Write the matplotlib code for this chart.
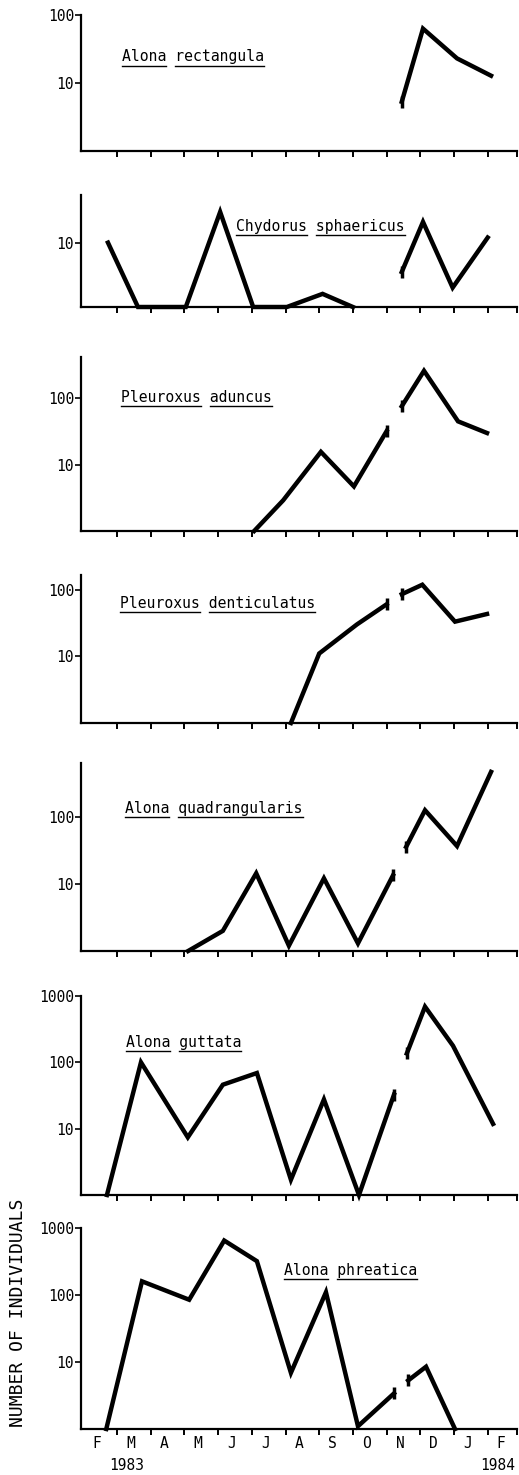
import numpy as np
import matplotlib
matplotlib.use('Agg')
import matplotlib.pyplot as plt
from matplotlib.lines import Line2D
from matplotlib.ticker import FixedLocator, NullLocator, FixedFormatter

W, H = 519, 1475
FONT = 'DejaVu Sans Mono'

# month letters along the bottom axis, Feb 1983 .. Feb 1984
months = ['F', 'M', 'A', 'M', 'J', 'J', 'A', 'S', 'O', 'N', 'D', 'J', 'F']
years = ['1983', '1984']

species = ['Alona rectangula', 'Chydorus sphaericus', 'Pleuroxus aduncus',
           'Pleuroxus denticulatus', 'Alona quadrangularis', 'Alona guttata',
           'Alona phreatica']

# x in months (tick k = start of month k), values = number of individuals
# zeros are drawn on the baseline (1); "_1" is before the November break, "_2" after
rect_x1 = []
rect_y1 = []
rect_x2 = [9.45, 10.08, 11.09, 12.1]
rect_y2 = [5.3, 63, 23, 12.8]

chyd_x1 = [0.73, 1.62, 3.04, 4.06, 5.04, 6.04, 7.1, 8.0]
chyd_y1 = [10, 1, 1, 30, 1, 1, 1.6, 1.0]
chyd_x2 = [9.45, 10.08, 10.96, 12.0]
chyd_y2 = [3.5, 21, 2.0, 12]

adun_x1 = [5.07, 5.93, 7.05, 8.03, 9.0]
adun_y1 = [1, 2.9, 15.6, 4.7, 32]
adun_x2 = [9.45, 10.11, 11.12, 11.98]
adun_y2 = [76, 260, 45, 30]

dent_x1 = [6.16, 7.0, 8.12, 9.0]
dent_y1 = [1, 11, 30, 60]
dent_x2 = [9.45, 10.06, 11.03, 11.98]
dent_y2 = [85, 118, 33, 43]

quad_x1 = [3.11, 4.14, 5.13, 6.1, 7.14, 8.15, 9.19]
quad_y1 = [1, 2, 14.5, 1.2, 12.2, 1.3, 13.5]
quad_x2 = [9.58, 10.14, 11.09, 12.1]
quad_y2 = [36, 127, 37, 475]

gutt_x1 = [0.70, 1.71, 3.1, 4.14, 5.15, 6.16, 7.14, 8.18, 9.22]
gutt_y1 = [1, 100, 7.4, 46, 69, 1.7, 27.6, 1.0, 32.7]
gutt_x2 = [9.6, 10.14, 10.97, 12.16]
gutt_y2 = [136, 690, 178, 11.8]

phre_x1 = [0.68, 1.74, 3.14, 4.18, 5.15, 6.16, 7.2, 8.15, 9.22]
phre_y1 = [1, 160, 85, 650, 320, 6.9, 110, 1.1, 3.4]
phre_x2 = [9.64, 10.17, 11.03]
phre_y2 = [5.3, 8.5, 1]

y_tops = [100, 55, 420, 165, 645, 1000, 1000]
y_ticks = [[10, 100], [10], [10, 100], [10, 100], [10, 100], [10, 100, 1000], [10, 100, 1000]]
# does the segment before the break end with a break bar?
break_bar = [False, False, True, True, True, True, True]

series = [(rect_x1, rect_y1, rect_x2, rect_y2),
          (chyd_x1, chyd_y1, chyd_x2, chyd_y2),
          (adun_x1, adun_y1, adun_x2, adun_y2),
          (dent_x1, dent_y1, dent_x2, dent_y2),
          (quad_x1, quad_y1, quad_x2, quad_y2),
          (gutt_x1, gutt_y1, gutt_x2, gutt_y2),
          (phre_x1, phre_y1, phre_x2, phre_y2)]

# panel extents in pixels (top, bottom) and label anchor (left, centre y)
panel_px = [(15, 151), (195, 307), (357, 531), (575, 723), (763, 951), (996, 1195), (1228, 1429)]
label_px = [(122, 57), (236, 226), (121, 397), (120, 603), (125, 808), (126, 1042), (284, 1270)]

fig = plt.figure(figsize=(W / 100, H / 100), dpi=100)
left, right = 81, 517
xmin, xmax = -0.07, 12.87

axes = []
for i, (top, bot) in enumerate(panel_px):
    ax = fig.add_axes([left / W, 1 - bot / H, (right - left) / W, (bot - top) / H])
    axes.append(ax)
    x1, y1, x2, y2 = series[i]
    if len(x1):
        ax.plot(x1, y1, color='black', lw=3.2, solid_joinstyle='miter', clip_on=False,
                marker='|', markevery=[len(x1) - 1] if break_bar[i] else [], ms=9, mew=2.5)
    ax.plot(x2, y2, color='black', lw=3.2, solid_joinstyle='miter', clip_on=False,
            marker='|', markevery=[0], ms=9, mew=2.5)

    ax.set_yscale('log')
    ax.set_ylim(1, y_tops[i])
    ax.set_xlim(xmin, xmax)
    ax.yaxis.set_major_locator(FixedLocator(y_ticks[i]))
    ax.yaxis.set_major_formatter(FixedFormatter([str(v) for v in y_ticks[i]]))
    ax.yaxis.set_minor_locator(NullLocator())
    ax.xaxis.set_major_locator(FixedLocator(list(range(1, 13)) + [xmax]))
    ax.xaxis.set_major_formatter(FixedFormatter([]))
    for s in ['top', 'right']:
        ax.spines[s].set_visible(False)
    for s in ['left', 'bottom']:
        ax.spines[s].set_linewidth(1.6)
    ax.tick_params(axis='x', which='major', direction='out', length=4, width=1.4, labelbottom=False)
    ax.tick_params(axis='y', which='major', direction='out', length=4, width=1.2, pad=1,
                   labelsize=10.5)
    for t in ax.get_yticklabels():
        t.set_family(FONT)

# month letters and years under the last panel
ax = axes[-1]
ax.xaxis.set_minor_locator(FixedLocator([k + 0.4 for k in range(13)]))
ax.xaxis.set_minor_formatter(FixedFormatter(months))
ax.tick_params(axis='x', which='minor', length=0, pad=5, labelsize=10.5, labelbottom=True)
for t in ax.get_xticklabels(minor=True):
    t.set_family(FONT)
ax.annotate(years[0], xy=(1.3, 0), xycoords=('data', 'axes fraction'), xytext=(0, -26.5),
            textcoords='offset points', ha='center', va='center', family=FONT, fontsize=10.5,
            annotation_clip=False)
ax.annotate(years[1], xy=(12.3, 0), xycoords=('data', 'axes fraction'), xytext=(0, -26.5),
            textcoords='offset points', ha='center', va='center', family=FONT, fontsize=10.5,
            annotation_clip=False)

fig.text(18 / W, 1 - 1313 / H, 'NUMBER OF INDIVIDUALS', rotation=90, ha='center', va='center',
         family=FONT, fontsize=13)

# species names, each word underlined
labels = []
for name, (lx, ly) in zip(species, label_px):
    t = fig.text(lx / W, 1 - ly / H, name, ha='left', va='center', family=FONT, fontsize=10.6)
    labels.append(t)

fig.canvas.draw()
r = fig.canvas.get_renderer()
for t in labels:
    bb = t.get_window_extent(r)
    name = t.get_text()
    cw = bb.width / len(name)
    uy = bb.y0 - 1
    pos = 0
    for word in name.split(' '):
        x0 = bb.x0 + pos * cw
        x1 = x0 + len(word) * cw
        fig.add_artist(Line2D([x0 / W, x1 / W], [uy / H, uy / H], transform=fig.transFigure,
                              color='black', lw=1.0))
        pos += len(word) + 1

fig.savefig('out.png', dpi=100)
